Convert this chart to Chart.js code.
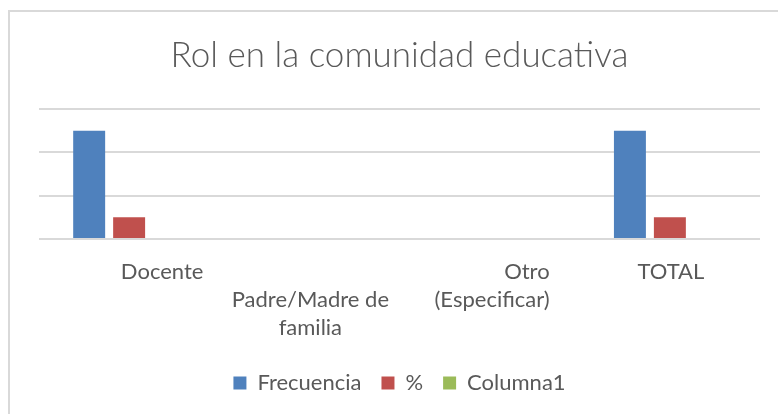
<!DOCTYPE html>
<html>
<head>
<meta charset="utf-8">
<script src="https://cdn.jsdelivr.net/npm/chart.js@4.4.1/dist/chart.umd.min.js"></script>
<style>
  html, body { margin: 0; padding: 0; background: #ffffff; }
  #wrap { width: 778px; height: 414px; position: relative; }
</style>
</head>
<body>
<div id="wrap"><canvas id="c" width="778" height="414"></canvas></div>
<script>
// ---- data ----
const titleText = "Rol en la comunidad educativa";
const categories = ["Docente", "Padre/Madre de familia", "Otro (Especificar)", "TOTAL"];
const categoryLines = [["Docente"], ["Padre/Madre de", "familia"], ["Otro", "(Especificar)"], ["TOTAL"]];
const seriesNames = ["Frecuencia", "%", "Columna1"];
const frecuencia = [5, 0, 0, 5];
const porcentaje = [1, 0, 0, 1];
const columna1 = [null, null, null, null];
const yTicks = [0, 2, 4, 6];

// ---- style / layout ----
const FONT = "Lato, 'Open Sans', sans-serif";
const TEXT = "#595959";
const GRID = "#d9d9d9";
const colors = ["#4F81BD", "#C0504D", "#9BBB59"];
// label placement per category: [dx from category center, align, first line index]
const labelLayout = [
  {dx: 33, align: "center", row: 0},
  {dx: 1, align: "center", row: 1},
  {dx: 60, align: "right", row: 0},
  {dx: 1, align: "center", row: 0}
];

const framePlugin = {
  id: "frame",
  beforeDraw(chart) {
    const ctx = chart.ctx;
    ctx.save();
    ctx.fillStyle = GRID;
    ctx.fillRect(8, 10, 770, 2);
    ctx.fillRect(8, 10, 2, 404);
    ctx.restore();
  }
};

const xLabelPlugin = {
  id: "xlabels",
  afterDraw(chart) {
    const ctx = chart.ctx;
    const xs = chart.scales.x;
    const base = chart.chartArea.bottom;
    ctx.save();
    ctx.fillStyle = TEXT;
    ctx.font = "22px " + FONT;
    ctx.textBaseline = "middle";
    categoryLines.forEach((lines, i) => {
      const L = labelLayout[i];
      const x = xs.getPixelForValue(i) + L.dx;
      ctx.textAlign = L.align;
      lines.forEach((t, k) => {
        ctx.fillText(t, x, base + 33 + (L.row + k) * 28);
      });
    });
    ctx.restore();
  }
};

new Chart(document.getElementById("c"), {
  type: "bar",
  data: {
    labels: categories,
    datasets: [
      {label: seriesNames[0], data: frecuencia, backgroundColor: colors[0]},
      {label: seriesNames[1], data: porcentaje, backgroundColor: colors[1]},
      {label: seriesNames[2], data: columna1, backgroundColor: colors[2]}
    ]
  },
  options: {
    responsive: false,
    animation: false,
    devicePixelRatio: 1,
    categoryPercentage: 0.665,
    barPercentage: 0.8,
    layout: {padding: {left: 39, right: 18, top: 0, bottom: 10}},
    plugins: {
      title: {
        display: true,
        text: titleText,
        color: TEXT,
        font: {family: FONT, size: 35, weight: "300"},
        padding: {top: 35, bottom: 32}
      },
      legend: {
        position: "bottom",
        labels: {
          color: TEXT,
          font: {family: FONT, size: 22},
          boxWidth: 13,
          boxHeight: 13,
          padding: 20
        }
      },
      tooltip: {enabled: false}
    },
    scales: {
      x: {
        grid: {display: false},
        border: {display: false},
        ticks: {display: false},
        afterFit(scale) { scale.height = 113; }
      },
      y: {
        min: yTicks[0],
        max: yTicks[yTicks.length - 1],
        afterBuildTicks(scale) { scale.ticks = yTicks.map(v => ({value: v})); },
        grid: {color: GRID, lineWidth: 2, drawTicks: false},
        border: {display: false},
        ticks: {display: false}
      }
    }
  },
  plugins: [framePlugin, xLabelPlugin]
});
</script>
</body>
</html>
